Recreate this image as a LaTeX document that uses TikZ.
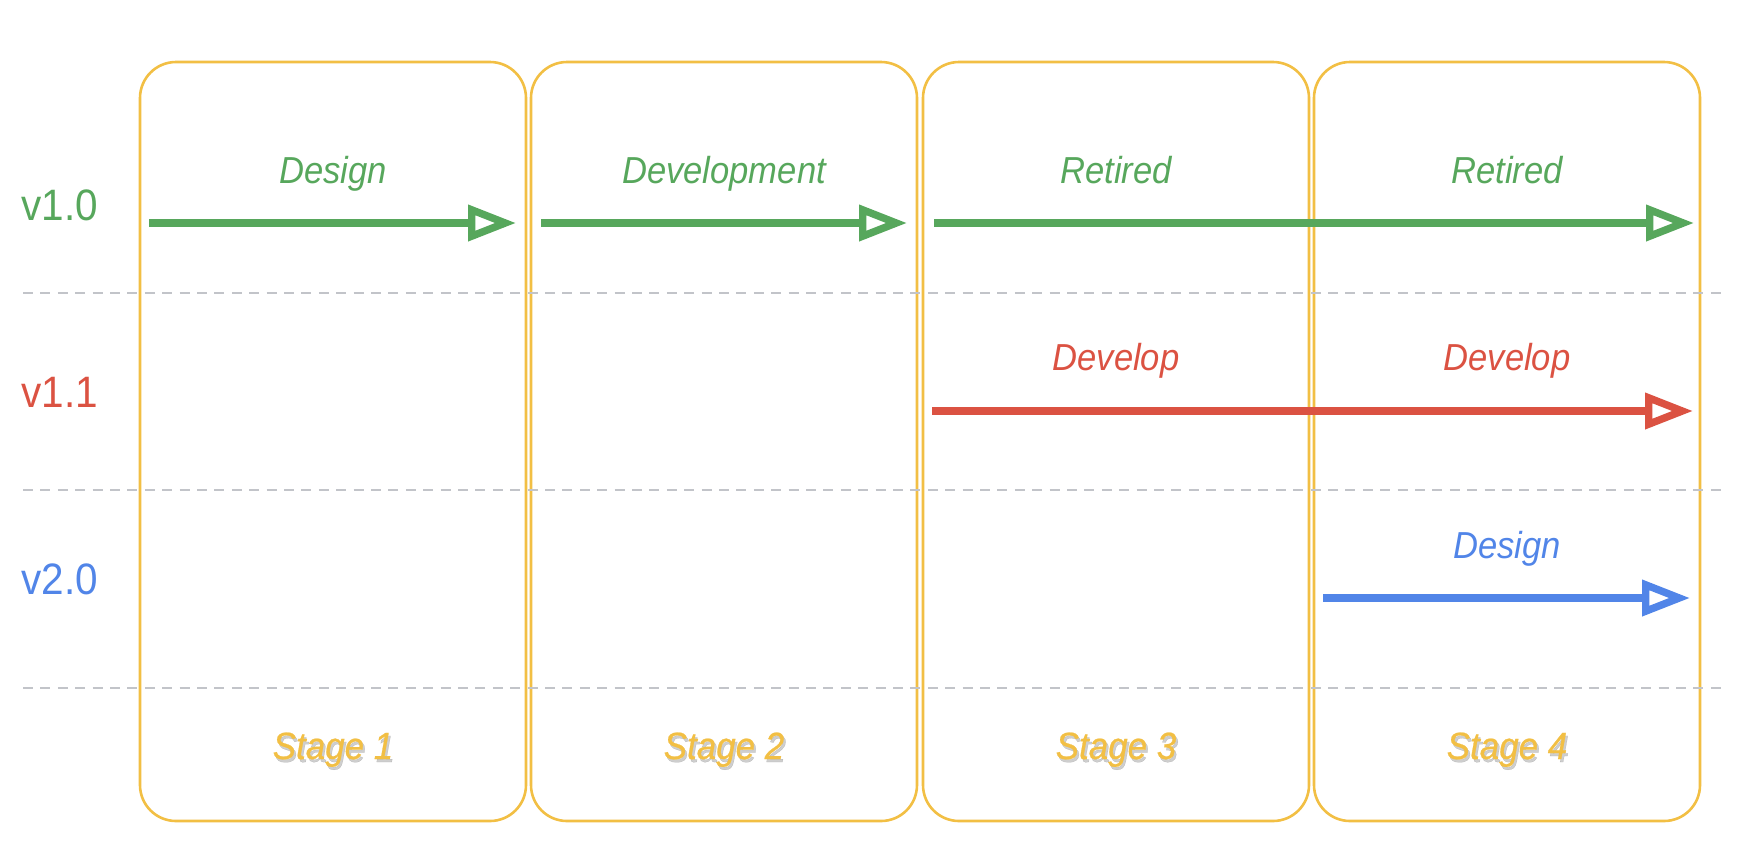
\documentclass[tikz,border=0pt]{standalone}
\usepackage{fontspec}
\setmainfont{Liberation Sans}[FakeStretch=0.92]
\newfontfamily\stagefont{Liberation Sans}[FakeStretch=0.92, FakeBold=0.6]
\usetikzlibrary{arrows.meta}
\definecolor{cgreen}{RGB}{87,167,92}
\definecolor{cred}{RGB}{219,82,66}
\definecolor{cblue}{RGB}{81,133,232}
\definecolor{cyellow}{RGB}{242,191,68}
\definecolor{cgray}{RGB}{194,196,201}
\tikzset{
  stagebox/.style={draw=cyellow, line width=1.3pt, rounded corners=18pt, minimum width=193pt, minimum height=379.5pt, inner sep=0pt},
  rowsep/.style={draw=cgray, line width=1.4pt, dash pattern=on 5pt off 3.7pt},
  flow/.style={line width=3.7pt, -{Triangle[open, length=24pt, width=17.5pt, fill=white]}},
  rowlabel/.style={anchor=base west, inner sep=0pt, font=\fontsize{22}{24}\selectfont},
  flowlabel/.style={anchor=base, inner sep=0pt, font=\fontsize{18.8}{20}\selectfont\itshape},
  stagelabel/.style={anchor=base, inner sep=0pt, text=cyellow, font=\stagefont\fontsize{19}{22}\selectfont\itshape},
  stageshadow/.style={anchor=base, inner sep=0pt, text=black!55, opacity=0.35, font=\stagefont\fontsize{19}{22}\selectfont\itshape}
}
\begin{document}
\begin{tikzpicture}[x=0.5pt,y=-0.5pt]
\useasboundingbox (0,0) rectangle (1752,864);
% stage boxes
\node[stagebox] (s1) at (333,441.5) {};
\node[stagebox] (s2) at (724,441.5) {};
\node[stagebox] (s3) at (1116,441.5) {};
\node[stagebox] (s4) at (1507,441.5) {};
% dashed separators
\coordinate (d1a) at (23,293); \coordinate (d1b) at (1725,293);
\coordinate (d2a) at (23,490); \coordinate (d2b) at (1725,490);
\coordinate (d3a) at (23,688); \coordinate (d3b) at (1725,688);
\draw[rowsep] (d1a) -- (d1b);
\draw[rowsep] (d2a) -- (d2b);
\draw[rowsep] (d3a) -- (d3b);
% row labels
\node[rowlabel, text=cgreen] (r1) at (21,220) {v1.0};
\node[rowlabel, text=cred] (r2) at (21,407) {v1.1};
\node[rowlabel, text=cblue] (r3) at (21,594) {v2.0};
% arrow end points
\coordinate (a1s) at (149,223);  \coordinate (a1e) at (516,223);
\coordinate (a2s) at (541,223);  \coordinate (a2e) at (907,223);
\coordinate (a3s) at (934,223);  \coordinate (a3e) at (1694,223);
\coordinate (b1s) at (932,411);  \coordinate (b1e) at (1693,411);
\coordinate (c1s) at (1323,598); \coordinate (c1e) at (1690,598);
\draw[flow, draw=cgreen] (a1s) -- (a1e);
\draw[flow, draw=cgreen] (a2s) -- (a2e);
\draw[flow, draw=cgreen] (a3s) -- (a3e);
\draw[flow, draw=cred] (b1s) -- (b1e);
\draw[flow, draw=cblue] (c1s) -- (c1e);
% arrow labels
\node[flowlabel, text=cgreen] (l1) at (333,183) {Design};
\node[flowlabel, text=cgreen] (l2) at (724,183) {Development};
\node[flowlabel, text=cgreen] (l3) at (1116,183) {Retired};
\node[flowlabel, text=cgreen] (l4) at (1507,183) {Retired};
\node[flowlabel, text=cred] (m3) at (1116,370) {Develop};
\node[flowlabel, text=cred] (m4) at (1507,370) {Develop};
\node[flowlabel, text=cblue] (n4) at (1507,558) {Design};
% stage labels with soft shadow
\foreach \cx/\t in {333/1,724/2,1116/3,1507/4}{
  \node[stageshadow] (sh\t) at (\cx+2,762) {Stage \t};
  \node[stagelabel] (st\t) at (\cx,759) {Stage \t};
}
\end{tikzpicture}
\end{document}
